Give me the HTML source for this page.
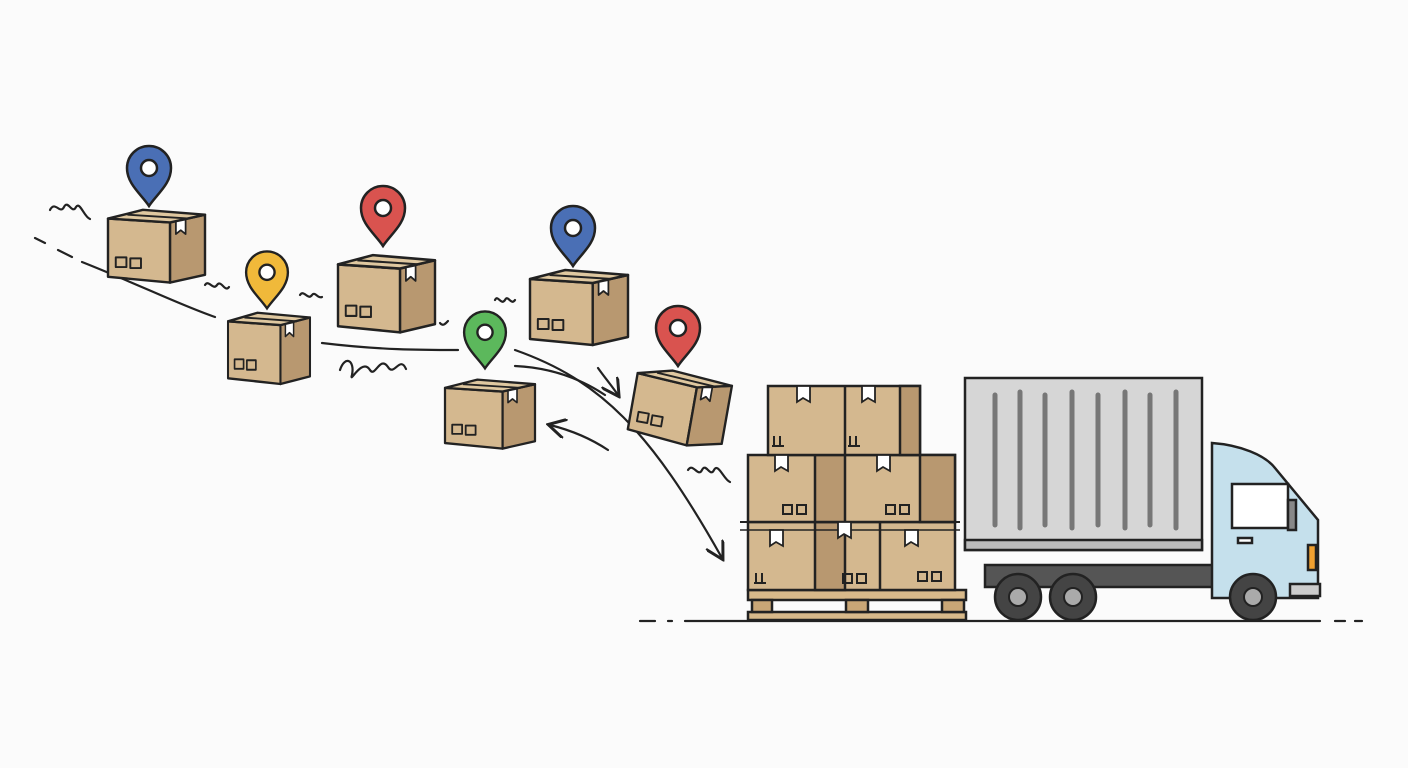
<!DOCTYPE html>
<html><head><meta charset="utf-8"><style>html,body{margin:0;padding:0;background:#fbfbfb}svg{display:block}</style></head>
<body>
<svg width="1408" height="768" viewBox="0 0 1408 768" xmlns="http://www.w3.org/2000/svg">
<defs>
<g id="box" stroke="#222" stroke-width="2.5" stroke-linejoin="round">
 <polygon points="0,14 64,18 64,80 0,74" fill="#d4b88f"/>
 <polygon points="64,18 100,10 100,72 64,80" fill="#b89870"/>
 <polygon points="0,14 36,5 100,10 64,18" fill="#dfc8a0"/>
 <line x1="20" y1="10" x2="84" y2="14" stroke-width="2"/>
 <polygon points="70,17 80,15 80,30 75,26 70,30" fill="#fff" stroke-width="1.8"/>
 <rect x="8" y="54" width="11" height="10" fill="none" stroke-width="2"/>
 <rect x="23" y="55" width="11" height="10" fill="none" stroke-width="2"/>
</g>
<g id="pin" stroke="#222" stroke-width="2.5">
 <path d="M0,32 C-8,20 -22,10 -22,-6 A22,22 0 1 1 22,-6 C22,10 8,20 0,32 Z"/>
 <circle cx="0" cy="-6" r="8" fill="#fff"/>
</g>
<marker id="ah" viewBox="0 0 10 10" refX="8" refY="5" markerWidth="9" markerHeight="9" orient="auto"><path d="M0,0 L9,5 L0,10" fill="none" stroke="#222" stroke-width="1.5"/></marker>
</defs>

<g fill="none" stroke="#222" stroke-width="2.2" stroke-linecap="round">
 <path d="M35,238 L45,243 M58,250 L72,257"/>
 <path d="M82,262 C140,285 180,305 215,317"/>
 <path d="M322,343 C380,350 420,350 458,350"/>
 <path d="M515,350 C600,380 650,430 722,558" marker-end="url(#ah)"/>
 <path d="M515,366 C560,368 590,385 605,395"/>
 <path d="M598,368 C605,378 612,386 618,395" marker-end="url(#ah)"/>
 <path d="M608,450 C590,438 570,430 550,425" marker-end="url(#ah)"/>
 <path d="M50,210 c5,-10 10,5 14,-3 c4,-8 8,8 12,0 c4,-6 8,10 14,12"/>
 <path d="M205,285 c4,-6 8,6 12,0 c4,-6 8,8 12,2"/>
 <path d="M300,295 c4,-6 8,6 12,0 c3,-4 6,4 10,2"/>
 <path d="M340,370 c5,-15 15,-10 12,5 c-3,10 10,-18 18,-5 c5,8 10,-15 18,-3 c6,10 12,-12 18,2"/>
 <path d="M495,300 c3,-6 6,6 10,0 c3,-6 6,6 10,0"/>
 <path d="M440,323 c3,4 6,0 8,-2"/>
 <path d="M688,470 c5,-8 10,8 14,0 c4,-8 8,8 12,0 c4,-8 10,10 16,12"/>
 <path d="M640,621 L655,621 M668,621 L672,621 M685,621 L1320,621 M1335,621 L1345,621 M1355,621 L1362,621"/>
</g>

<use href="#box" transform="translate(108,205) scale(0.97,0.97)"/>
<use href="#box" transform="translate(228,308) scale(0.82,0.95)"/>
<use href="#box" transform="translate(338,250) scale(0.97,1.03)"/>
<use href="#box" transform="translate(445,375) scale(0.9,0.92)"/>
<use href="#box" transform="translate(530,265) scale(0.98,1)"/>
<use href="#box" transform="translate(640,360) rotate(10) scale(0.95,0.95)"/>

<use href="#pin" fill="#4a6fb5" transform="translate(149,174)"/>
<use href="#pin" fill="#f0b93a" transform="translate(267,278) scale(0.95)"/>
<use href="#pin" fill="#d9534f" transform="translate(383,214)"/>
<use href="#pin" fill="#5cb85c" transform="translate(485,338) scale(0.95)"/>
<use href="#pin" fill="#4a6fb5" transform="translate(573,234)"/>
<use href="#pin" fill="#d9534f" transform="translate(678,334)"/>

<!-- pallet stack -->
<g stroke="#222" stroke-width="2.5">
 <rect x="748" y="590" width="218" height="10" fill="#d8b98a"/>
 <rect x="748" y="612" width="218" height="8" fill="#d8b98a"/>
 <rect x="752" y="600" width="20" height="12" fill="#c9a676"/>
 <rect x="846" y="600" width="22" height="12" fill="#c9a676"/>
 <rect x="942" y="600" width="22" height="12" fill="#c9a676"/>
 <rect x="748" y="522" width="207" height="68" fill="#d4b88f"/>
 <rect x="815" y="522" width="30" height="68" fill="#b89870"/>
 <line x1="880" y1="522" x2="880" y2="590"/>
 <rect x="748" y="455" width="207" height="67" fill="#d4b88f"/>
 <rect x="815" y="455" width="30" height="67" fill="#b89870"/>
 <rect x="920" y="455" width="35" height="67" fill="#b89870"/>
 <rect x="768" y="386" width="152" height="69" fill="#d4b88f"/>
 <rect x="900" y="386" width="20" height="69" fill="#b89870"/>
 <line x1="845" y1="386" x2="845" y2="455"/>
 <line x1="740" y1="522" x2="960" y2="522" stroke-width="2"/>
 <line x1="740" y1="530" x2="960" y2="530" stroke-width="1.5"/>
 <g fill="#fff" stroke-width="1.8">
  <polygon points="797,386 810,386 810,402 803,398 797,402"/>
  <polygon points="862,386 875,386 875,402 868,398 862,402"/>
  <polygon points="775,455 788,455 788,471 781,467 775,471"/>
  <polygon points="877,455 890,455 890,471 883,467 877,471"/>
  <polygon points="770,530 783,530 783,546 776,542 770,546"/>
  <polygon points="838,522 851,522 851,538 844,534 838,538"/>
  <polygon points="905,530 918,530 918,546 911,542 905,546"/>
 </g>
 <g fill="none" stroke-width="2">
  <rect x="783" y="505" width="9" height="9"/><rect x="797" y="505" width="9" height="9"/>
  <rect x="886" y="505" width="9" height="9"/><rect x="900" y="505" width="9" height="9"/>
  <rect x="843" y="574" width="9" height="9"/><rect x="857" y="574" width="9" height="9"/>
  <rect x="918" y="572" width="9" height="9"/><rect x="932" y="572" width="9" height="9"/>
  <path d="M774,446 v-10 M780,446 v-10 M772,446 h12"/>
  <path d="M850,446 v-10 M856,446 v-10 M848,446 h12"/>
  <path d="M756,583 v-10 M762,583 v-10 M754,583 h12"/>
 </g>
</g>

<!-- truck -->
<g stroke="#222" stroke-width="2.5">
 <rect x="985" y="565" width="240" height="22" fill="#555"/>
 <rect x="965" y="378" width="237" height="172" fill="#d6d6d6"/>
 <rect x="965" y="540" width="237" height="10" fill="#bbb"/>
 <g stroke="#777" stroke-width="5" stroke-linecap="round">
  <line x1="995" y1="395" x2="995" y2="525"/><line x1="1020" y1="392" x2="1020" y2="528"/>
  <line x1="1045" y1="395" x2="1045" y2="525"/><line x1="1072" y1="392" x2="1072" y2="528"/>
  <line x1="1098" y1="395" x2="1098" y2="525"/><line x1="1125" y1="392" x2="1125" y2="528"/>
  <line x1="1150" y1="395" x2="1150" y2="525"/><line x1="1176" y1="392" x2="1176" y2="528"/>
 </g>
 <path d="M1212,598 L1212,443 C1240,445 1265,455 1275,468 L1318,520 L1318,598 Z" fill="#c5e0ec"/>
 <path d="M1232,484 L1288,484 L1288,528 L1232,528 Z" fill="#fff"/>
 <rect x="1288" y="500" width="8" height="30" fill="#888"/>
 <rect x="1308" y="545" width="8" height="25" fill="#f0a030"/>
 <rect x="1238" y="538" width="14" height="5" fill="#fff"/>
 <rect x="1290" y="584" width="30" height="12" fill="#ccc"/>
 <g fill="#444"><circle cx="1018" cy="597" r="23"/><circle cx="1073" cy="597" r="23"/><circle cx="1253" cy="597" r="23"/></g>
 <g fill="#aaa" stroke-width="2"><circle cx="1018" cy="597" r="9"/><circle cx="1073" cy="597" r="9"/><circle cx="1253" cy="597" r="9"/></g>
</g>
</svg>
</body></html>
